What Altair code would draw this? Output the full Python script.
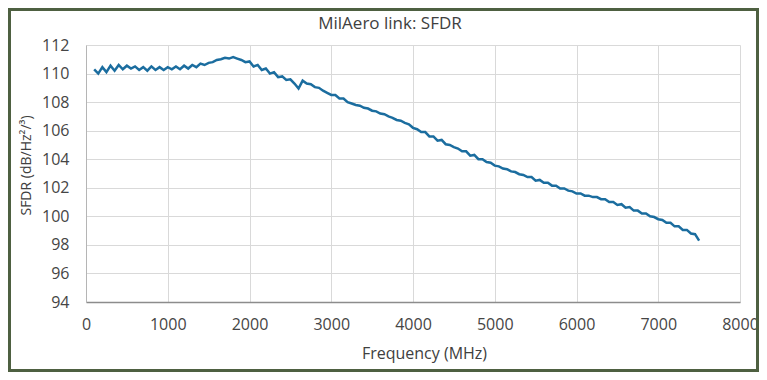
import altair as alt
import pandas as pd

# Frequency sampling (MHz) and SFDR values
freq_mhz = list(range(100, 7501, 50))
sfdr = [
    110.3, 110.0, 110.45, 110.1, 110.55, 110.2, 110.6, 110.3, 110.55, 110.35,
    110.5, 110.25, 110.45, 110.2, 110.5, 110.25, 110.45, 110.25, 110.45, 110.3,
    110.5, 110.3, 110.55, 110.35, 110.6, 110.45, 110.7, 110.6, 110.75, 110.8,
    110.95, 111.0, 111.1, 111.05, 111.15, 111.05, 110.95, 110.8, 110.85, 110.5,
    110.6, 110.25, 110.35, 110.0, 110.1, 109.75, 109.8, 109.55, 109.6, 109.3,
    108.95, 109.5, 109.3, 109.25, 109.05, 109.0, 108.8, 108.65, 108.5, 108.5,
    108.25, 108.25, 108.0, 107.9, 107.8, 107.75, 107.6, 107.55, 107.4, 107.35,
    107.2, 107.15, 107.0, 106.9, 106.75, 106.7, 106.55, 106.45, 106.2, 106.1,
    105.9, 105.9, 105.6, 105.6, 105.3, 105.35, 105.05, 105.0, 104.85, 104.75,
    104.55, 104.55, 104.25, 104.3, 104.0, 104.0, 103.8, 103.75, 103.55, 103.5,
    103.35, 103.3, 103.15, 103.1, 102.95, 102.9, 102.75, 102.75, 102.5, 102.55,
    102.35, 102.35, 102.15, 102.15, 101.95, 101.95, 101.8, 101.75, 101.6, 101.6,
    101.45, 101.45, 101.35, 101.35, 101.2, 101.2, 101.0, 101.0, 100.8, 100.85,
    100.6, 100.65, 100.4, 100.4, 100.2, 100.2, 100.0, 99.95, 99.8, 99.75,
    99.55, 99.55, 99.3, 99.3, 99.05, 99.05, 98.8, 98.75, 98.3,
]
assert len(freq_mhz) == len(sfdr)

x_ticks = [0, 1000, 2000, 3000, 4000, 5000, 6000, 7000, 8000]
y_ticks = [94, 96, 98, 100, 102, 104, 106, 108, 110, 112]
chart_title = "MilAero link: SFDR"

df = pd.DataFrame({"freq": freq_mhz, "sfdr": sfdr})

W, H = 654, 257
PAD_L, PAD_T, PAD_R, PAD_B = 78, 37, 19, 70
FONT = "Open Sans"

line = alt.Chart(df).mark_line(color="#1b6d9f", strokeWidth=2.5).encode(
    x=alt.X(
        "freq:Q",
        scale=alt.Scale(domain=[0, 8000], nice=False),
        axis=alt.Axis(
            values=x_ticks,
            format="d",
            title="Frequency (MHz)",
            ticks=False,
            labelPadding=22,
            labelBaseline="middle",
            labelFontSize=16,
            labelColor="#454545",
            labelFont=FONT,
            titleFont=FONT,
            titleFontSize=16,
            titleFontWeight="normal",
            titleColor="#404040",
            titleX=338,
            titleY=51,
            titleBaseline="middle",
            domainColor="#8c8c8c",
            domainWidth=1.5,
            gridColor="#d9d9d9",
            gridWidth=1,
            labelFlush=False,
        ),
    ),
    y=alt.Y(
        "sfdr:Q",
        scale=alt.Scale(domain=[94, 112], nice=False, zero=False),
        axis=alt.Axis(
            values=y_ticks,
            format="d",
            title="SFDR (dB/Hz²/³)",
            ticks=False,
            labelPadding=17,
            labelFontSize=16,
            labelColor="#454545",
            labelFont=FONT,
            titleFont=FONT,
            titleFontSize=14,
            titleFontWeight="normal",
            titleColor="#404040",
            titleAngle=-90,
            titleX=-60,
            titleY=120,
            titleAlign="center",
            titleBaseline="middle",
            domainColor="#b5b5b5",
            domainWidth=1,
            gridColor="#d9d9d9",
            gridWidth=1,
        ),
    ),
)

title_text = alt.Chart(alt.Data(values=[{"t": chart_title}])).mark_text(
    font=FONT, fontSize=17, color="#404040", align="center", baseline="middle", clip=False
).encode(
    text="t:N",
    x=alt.value(390 - 8 - PAD_L),
    y=alt.value(24 - 8 - PAD_T),
)

frame = alt.Chart(alt.Data(values=[{"a": 1}])).mark_rect(
    fill=None, stroke="#4e6041", strokeWidth=3, clip=False
).encode(
    x=alt.value(-PAD_L + 1.5),
    x2=alt.value(W + PAD_R - 1.5),
    y=alt.value(-PAD_T + 1.5),
    y2=alt.value(H + PAD_B - 1.5),
)

chart = (
    alt.layer(line, title_text, frame)
    .properties(
        width=W,
        height=H,
        autosize=alt.AutoSizeParams(type="none"),
        padding={"left": PAD_L, "top": PAD_T, "right": PAD_R, "bottom": PAD_B},
        background="white",
    )
    .configure_view(stroke=None)
)

chart.save("out.html", embed_options={"renderer": "svg", "actions": False})
